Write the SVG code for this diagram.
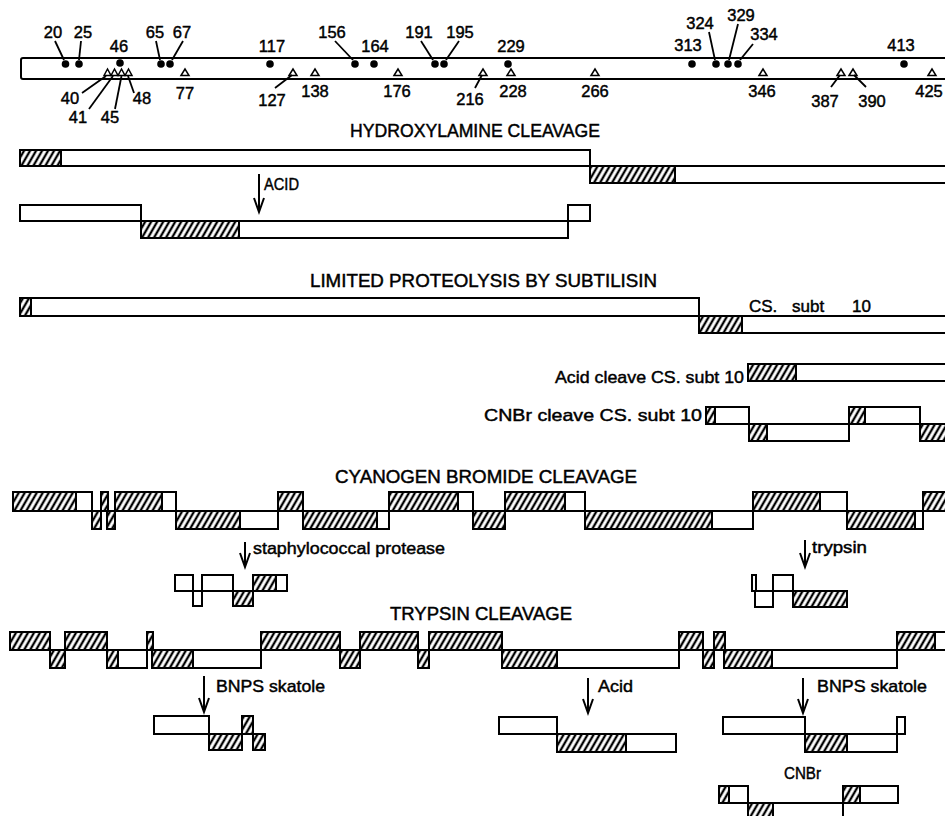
<svg xmlns="http://www.w3.org/2000/svg" width="945" height="816" viewBox="0 0 945 816">
<defs>
<pattern id="hp" patternUnits="userSpaceOnUse" width="5.2" height="10" patternTransform="rotate(30)">
<rect width="5.2" height="10" fill="#fff"/>
<line x1="2.6" y1="-1" x2="2.6" y2="11" stroke="#000" stroke-width="2.3"/>
</pattern>
</defs>
<style>
text{font-family:"Liberation Sans",Arial,sans-serif;fill:#000;stroke:#000;stroke-width:0.45}
.n{font-size:16.5px;text-anchor:middle}
.t{font-size:18px}
.l{font-size:17px}
.w{fill:#fff;stroke:#000;stroke-width:2}
.h{fill:url(#hp);stroke:#000;stroke-width:2}
.ld{stroke:#000;stroke-width:1.8;fill:none}
.ar{stroke:#000;stroke-width:2;fill:none}
.tri{fill:#fff;stroke:#000;stroke-width:1.5}
.dot{fill:#000}
</style>
<rect width="945" height="816" fill="#fff"/>

<g id="sequence-map">
<rect x="21" y="58" width="930" height="21" rx="2" fill="none" stroke="#000" stroke-width="2"/>
<circle class="dot" cx="65.5" cy="64" r="3.8"/>
<circle class="dot" cx="79" cy="64" r="3.8"/>
<circle class="dot" cx="120" cy="63" r="3.8"/>
<circle class="dot" cx="161" cy="64" r="3.8"/>
<circle class="dot" cx="170" cy="64" r="3.8"/>
<circle class="dot" cx="270" cy="64" r="3.8"/>
<circle class="dot" cx="355" cy="64" r="3.8"/>
<circle class="dot" cx="374" cy="64" r="3.8"/>
<circle class="dot" cx="435" cy="64" r="3.8"/>
<circle class="dot" cx="444" cy="64" r="3.8"/>
<circle class="dot" cx="508" cy="64" r="3.8"/>
<circle class="dot" cx="692" cy="64" r="3.8"/>
<circle class="dot" cx="716" cy="64" r="3.8"/>
<circle class="dot" cx="728" cy="64" r="3.8"/>
<circle class="dot" cx="738" cy="64" r="3.8"/>
<circle class="dot" cx="904" cy="64" r="3.8"/>
<polygon class="tri" points="104,75.5 107.5,69 111,75.5"/>
<polygon class="tri" points="111,75.5 114.5,69 118,75.5"/>
<polygon class="tri" points="118,75.5 121.5,69 125,75.5"/>
<polygon class="tri" points="125,75.5 128.5,69 132,75.5"/>
<polygon class="tri" points="181,75.5 185,69 189,75.5"/>
<polygon class="tri" points="289,75.5 293,69 297,75.5"/>
<polygon class="tri" points="311,75.5 315,69 319,75.5"/>
<polygon class="tri" points="394,75.5 398,69 402,75.5"/>
<polygon class="tri" points="479,75.5 483,69 487,75.5"/>
<polygon class="tri" points="507,75.5 511,69 515,75.5"/>
<polygon class="tri" points="591,75.5 595,69 599,75.5"/>
<polygon class="tri" points="759,75.5 763,69 767,75.5"/>
<polygon class="tri" points="837,75.5 841,69 845,75.5"/>
<polygon class="tri" points="849,75.5 853,69 857,75.5"/>
<polygon class="tri" points="928,75.5 932,69 936,75.5"/>
</g>

<g id="site-labels">
<text class="n" x="53" y="38">20</text>
<text class="n" x="83" y="38">25</text>
<text class="n" x="119" y="52">46</text>
<text class="n" x="155" y="38">65</text>
<text class="n" x="182" y="38">67</text>
<text class="n" x="272" y="52">117</text>
<text class="n" x="332" y="38">156</text>
<text class="n" x="375" y="52">164</text>
<text class="n" x="419" y="38">191</text>
<text class="n" x="460" y="38">195</text>
<text class="n" x="511" y="52">229</text>
<text class="n" x="688" y="51">313</text>
<text class="n" x="700" y="29">324</text>
<text class="n" x="741" y="21">329</text>
<text class="n" x="764" y="40">334</text>
<text class="n" x="901" y="51">413</text>
<text class="n" x="70" y="104">40</text>
<text class="n" x="78" y="123">41</text>
<text class="n" x="110" y="123">45</text>
<text class="n" x="142" y="104">48</text>
<text class="n" x="185" y="99">77</text>
<text class="n" x="272" y="106">127</text>
<text class="n" x="315" y="97">138</text>
<text class="n" x="397" y="97">176</text>
<text class="n" x="470" y="105">216</text>
<text class="n" x="513" y="97">228</text>
<text class="n" x="595" y="97">266</text>
<text class="n" x="762" y="97">346</text>
<text class="n" x="825" y="107">387</text>
<text class="n" x="872" y="107">390</text>
<text class="n" x="929" y="97">425</text>
</g>

<g id="connectors">
<line class="ld" x1="55" y1="41" x2="64" y2="60"/>
<line class="ld" x1="81" y1="41" x2="79" y2="60"/>
<line class="ld" x1="156" y1="41" x2="160" y2="60"/>
<line class="ld" x1="183" y1="41" x2="172" y2="60"/>
<line class="ld" x1="335" y1="41" x2="353" y2="60"/>
<line class="ld" x1="421" y1="41" x2="433" y2="60"/>
<line class="ld" x1="459" y1="41" x2="446" y2="60"/>
<line class="ld" x1="709" y1="32" x2="715" y2="60"/>
<line class="ld" x1="738" y1="24" x2="729" y2="60"/>
<line class="ld" x1="753" y1="44" x2="740" y2="60"/>
<line class="ld" x1="82" y1="93" x2="106" y2="76"/>
<line class="ld" x1="113" y1="76" x2="89" y2="109"/>
<line class="ld" x1="121.5" y1="76" x2="115" y2="109"/>
<line class="ld" x1="134" y1="93" x2="128" y2="76"/>
<line class="ld" x1="275" y1="88" x2="292" y2="75"/>
<line class="ld" x1="475" y1="88" x2="482" y2="75"/>
<line class="ld" x1="831" y1="87" x2="840" y2="75"/>
<line class="ld" x1="866" y1="87" x2="854" y2="75"/>
<path class="ar" d="M259 174V211M254 198L259 212L264 198"/>
<path class="ar" d="M245 542V566M240 553L245 567L250 553"/>
<path class="ar" d="M805 540V566M800 553L805 567L810 553"/>
<path class="ar" d="M204 676V711M199 698L204 712L209 698"/>
<path class="ar" d="M588 678V712M583 699L588 713L593 699"/>
<path class="ar" d="M803 678V712M798 699L803 713L808 699"/>
</g>

<g id="hydroxylamine">
<text class="t" x="350" y="137" textLength="250" lengthAdjust="spacingAndGlyphs">HYDROXYLAMINE CLEAVAGE</text>
<rect class="w" x="20" y="150" width="570" height="16"/>
<rect class="h" x="20" y="150" width="41" height="16"/>
<rect class="w" x="590" y="166" width="360" height="17"/>
<rect class="h" x="590" y="166" width="85" height="17"/>
<text class="l" x="264" y="190" textLength="35" lengthAdjust="spacingAndGlyphs">ACID</text>
<rect class="w" x="20" y="205" width="121" height="16"/>
<rect class="w" x="141" y="221" width="427" height="17"/>
<rect class="h" x="141" y="221" width="98" height="17"/>
<rect class="w" x="568" y="205" width="22" height="16"/>
</g>

<g id="subtilisin">
<text class="t" x="310" y="287" textLength="347" lengthAdjust="spacingAndGlyphs">LIMITED PROTEOLYSIS BY SUBTILISIN</text>
<rect class="w" x="20" y="298" width="679" height="18"/>
<rect class="h" x="20" y="298" width="11" height="18"/>
<rect class="w" x="699" y="316" width="251" height="17"/>
<rect class="h" x="699" y="316" width="43" height="17"/>
<text class="l" x="749" y="312">CS.</text>
<text class="l" x="792" y="312">subt</text>
<text class="l" x="852" y="312">10</text>
</g>

<g id="acid-cleave-cs">
<text class="l" x="555" y="383" textLength="189" lengthAdjust="spacingAndGlyphs">Acid cleave CS. subt 10</text>
<rect class="w" x="748" y="364" width="202" height="17"/>
<rect class="h" x="748" y="364" width="48" height="17"/>
</g>

<g id="cnbr-cleave-cs">
<text class="l" x="484" y="421" textLength="218" lengthAdjust="spacingAndGlyphs">CNBr cleave CS. subt 10</text>
<rect class="w" x="706" y="407" width="43" height="17"/>
<rect class="h" x="706" y="407" width="9" height="17"/>
<rect class="w" x="749" y="424" width="100" height="17"/>
<rect class="h" x="749" y="424" width="18" height="17"/>
<rect class="w" x="849" y="407" width="71" height="17"/>
<rect class="h" x="849" y="407" width="16" height="17"/>
<rect class="h" x="920" y="424" width="30" height="17"/>
</g>

<g id="cyanogen-bromide">
<text class="t" x="335" y="483" textLength="302" lengthAdjust="spacingAndGlyphs">CYANOGEN BROMIDE CLEAVAGE</text>
<rect class="w" x="13" y="492" width="79" height="19"/>
<rect class="h" x="13" y="492" width="63" height="19"/>
<rect class="h" x="92" y="511" width="9" height="18"/>
<rect class="h" x="101" y="492" width="7" height="19"/>
<rect class="h" x="107" y="511" width="8" height="18"/>
<rect class="w" x="115" y="492" width="61" height="19"/>
<rect class="h" x="115" y="492" width="47" height="19"/>
<rect class="w" x="176" y="511" width="102" height="18"/>
<rect class="h" x="176" y="511" width="64" height="18"/>
<rect class="h" x="278" y="492" width="25" height="19"/>
<rect class="w" x="303" y="511" width="86" height="18"/>
<rect class="h" x="303" y="511" width="74" height="18"/>
<rect class="w" x="389" y="492" width="84" height="19"/>
<rect class="h" x="389" y="492" width="69" height="19"/>
<rect class="h" x="473" y="511" width="32" height="18"/>
<rect class="w" x="505" y="492" width="80" height="19"/>
<rect class="h" x="505" y="492" width="60" height="19"/>
<rect class="w" x="585" y="511" width="168" height="18"/>
<rect class="h" x="585" y="511" width="127" height="18"/>
<rect class="w" x="753" y="492" width="94" height="19"/>
<rect class="h" x="753" y="492" width="67" height="19"/>
<rect class="w" x="847" y="511" width="76" height="18"/>
<rect class="h" x="847" y="511" width="68" height="18"/>
<rect class="h" x="923" y="492" width="27" height="19"/>
</g>

<g id="staph-fragment">
<text class="l" x="253" y="554" textLength="192" lengthAdjust="spacingAndGlyphs">staphylococcal protease</text>
<rect class="w" x="175" y="575" width="18" height="16"/>
<rect class="w" x="193" y="591" width="9" height="15"/>
<rect class="w" x="202" y="575" width="31" height="16"/>
<rect class="h" x="233" y="591" width="20" height="15"/>
<rect class="w" x="253" y="575" width="34" height="16"/>
<rect class="h" x="253" y="575" width="23" height="16"/>
</g>

<g id="trypsin-fragment">
<text class="l" x="812" y="553" textLength="55" lengthAdjust="spacingAndGlyphs">trypsin</text>
<rect class="w" x="752" y="575" width="4" height="16"/>
<rect class="w" x="755" y="591" width="18" height="16"/>
<rect class="w" x="773" y="575" width="20" height="16"/>
<rect class="h" x="793" y="591" width="54" height="16"/>
</g>

<g id="trypsin-cleavage">
<text class="t" x="390" y="620" textLength="182" lengthAdjust="spacingAndGlyphs">TRYPSIN CLEAVAGE</text>
<rect class="h" x="10" y="632" width="40" height="18"/>
<rect class="h" x="50" y="650" width="15" height="18"/>
<rect class="h" x="65" y="632" width="42" height="18"/>
<rect class="w" x="107" y="650" width="40" height="18"/>
<rect class="h" x="107" y="650" width="11" height="18"/>
<rect class="h" x="147" y="632" width="6" height="18"/>
<rect class="w" x="152" y="650" width="109" height="18"/>
<rect class="h" x="152" y="650" width="41" height="18"/>
<rect class="h" x="261" y="632" width="79" height="18"/>
<rect class="h" x="340" y="650" width="20" height="18"/>
<rect class="h" x="360" y="632" width="58" height="18"/>
<rect class="h" x="418" y="650" width="11" height="18"/>
<rect class="h" x="429" y="632" width="73" height="18"/>
<rect class="w" x="502" y="650" width="177" height="18"/>
<rect class="h" x="502" y="650" width="55" height="18"/>
<rect class="h" x="679" y="632" width="24" height="18"/>
<rect class="h" x="703" y="650" width="11" height="18"/>
<rect class="h" x="714" y="632" width="11" height="18"/>
<rect class="w" x="724" y="650" width="173" height="18"/>
<rect class="h" x="724" y="650" width="48" height="18"/>
<rect class="w" x="897" y="632" width="53" height="18"/>
<rect class="h" x="897" y="632" width="38" height="18"/>
</g>

<g id="bnps-left">
<text class="l" x="216" y="692" textLength="109" lengthAdjust="spacingAndGlyphs">BNPS skatole</text>
<rect class="w" x="154" y="716" width="55" height="18"/>
<rect class="h" x="209" y="734" width="33" height="16"/>
<rect class="h" x="242" y="716" width="11" height="18"/>
<rect class="h" x="253" y="734" width="12" height="16"/>
</g>

<g id="acid-fragment">
<text class="l" x="598" y="692" textLength="35" lengthAdjust="spacingAndGlyphs">Acid</text>
<rect class="w" x="499" y="717" width="58" height="17"/>
<rect class="w" x="557" y="734" width="119" height="18"/>
<rect class="h" x="557" y="734" width="69" height="18"/>
</g>

<g id="bnps-right">
<text class="l" x="817" y="692" textLength="110" lengthAdjust="spacingAndGlyphs">BNPS skatole</text>
<rect class="w" x="723" y="717" width="82" height="17"/>
<rect class="w" x="805" y="734" width="92" height="18"/>
<rect class="h" x="805" y="734" width="42" height="18"/>
<rect class="w" x="897" y="717" width="8" height="17"/>
</g>

<g id="cnbr-fragment">
<text class="l" x="784" y="779" textLength="37" lengthAdjust="spacingAndGlyphs">CNBr</text>
<rect class="w" x="719" y="786" width="29" height="17"/>
<rect class="h" x="719" y="786" width="10" height="17"/>
<rect class="w" x="748" y="803" width="95" height="20"/>
<rect class="h" x="748" y="803" width="25" height="20"/>
<rect class="w" x="843" y="786" width="55" height="17"/>
<rect class="h" x="843" y="786" width="17" height="17"/>
</g>
</svg>
